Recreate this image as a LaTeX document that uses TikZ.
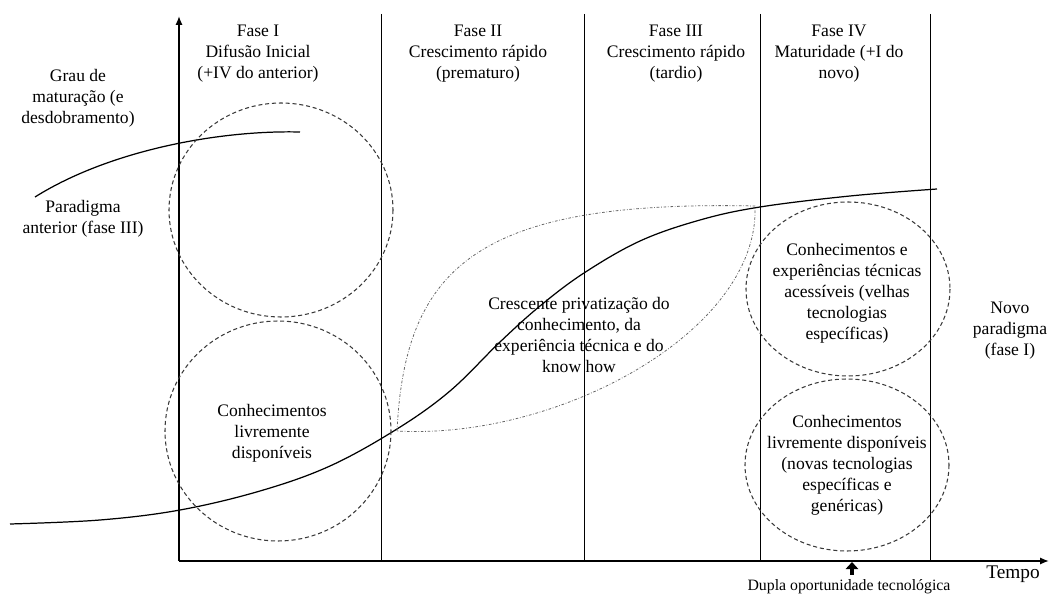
\documentclass[tikz,border=0pt]{standalone}
\usepackage{fontspec}
\setmainfont{Liberation Serif}
\usetikzlibrary{arrows.meta}

\begin{document}
\begin{tikzpicture}[
    x={(0.02cm,0)}, y={(0,-0.02cm)},
    >={Latex[length=5pt,width=4pt]},
    every node/.style = {font=\fontsize{10}{12}\selectfont, align=center, inner sep=0pt},
    axis/.style  = {line width=0.9pt},
    phase/.style = {line width=0.5pt},
    curve/.style = {line width=0.7pt},
    ring/.style  = {dashed, dash pattern=on 2.3pt off 1.6pt, gray!45!black, line width=0.6pt},
    leaf/.style  = {dash pattern=on 1.5pt off 1pt on 0.4pt off 1pt, gray!80!black, line width=0.45pt}
    ]
    \useasboundingbox (0,0) rectangle (1049,594);

    %--- axes ---
    \coordinate (O)    at (179,561);
    \coordinate (ytop) at (179,16);
    \coordinate (xend) at (1049,561);
    \draw[axis,->] (O) -- (ytop);
    \draw[axis,->] (O) -- (xend);

    %--- phase borders ---
    \foreach \px in {381,584,760,930}
        \draw[phase] (\px,14) -- (\px,560);

    %--- phase headers ---
    \node (f1) at (258,54) {Fase I\\Difusão Inicial\\(+IV do anterior)};
    \node (f2) at (478,54) {Fase II\\Crescimento rápido\\(prematuro)};
    \node (f3) at (676,54) {Fase III\\Crescimento rápido\\(tardio)};
    \node (f4) at (839,54) {Fase IV\\Maturidade (+I do\\novo)};

    %--- left labels ---
    \node (grau) at (78,98)  {Grau de\\maturação (e\\desdobramento)};
    \node (parA) at (83,219) {Paradigma\\anterior (fase III)};

    %--- curves ---
    \coordinate (oldS) at (35,197);
    \coordinate (oldE) at (300,132);
    \draw[curve] (oldS) .. controls (110,150) and (220,130) .. (oldE);
    \draw[curve] plot[smooth, tension=0.6] coordinates {
        (10,524) (100,520) (180,510) (260,491) (330,466) (397,429)
        (450,391) (500,342) (540,306) (584,273) (640,241) (700,220)
        (760,207) (850,196) (937,189)};

    %--- circles ---
    \draw[ring] (281,210) ellipse [x radius=112, y radius=107];
    \draw[ring] (278,431) ellipse [x radius=113, y radius=110];
    \draw[ring] (848,289) ellipse [x radius=102, y radius=87];
    \draw[ring] (847,465) ellipse [x radius=102, y radius=86];

    %--- privatisation leaf ---
    \coordinate (leafA) at (397,431);
    \coordinate (leafB) at (755,206);
    \draw[leaf] (leafA) .. controls (405,265) and (480,200) .. (leafB)
                        .. controls (760,330) and (560,440) .. (leafA);

    %--- texts ---
    \node (priv)  at (579,335) {Crescente privatização do\\conhecimento, da\\experiência técnica e do\\know how};
    \node (livre) at (272,433) {Conhecimentos\\livremente\\disponíveis};
    \node (acess) at (847,293) {Conhecimentos e\\experiências técnicas\\acessíveis (velhas\\tecnologias\\específicas)};
    \node (novas) at (847,465) {Conhecimentos\\livremente disponíveis\\(novas tecnologias\\específicas e\\genéricas)};
    \node (novo)  at (1010,331) {Novo\\paradigma\\(fase I)};
    \node[font=\fontsize{11}{13}\selectfont] (tempo) at (1013,574) {Tempo};
    \node[font=\fontsize{9}{11}\selectfont] (dupla) at (849,587) {Dupla oportunidade tecnológica};

    %--- double opportunity arrow ---
    \coordinate (arrTail) at (852,575);
    \coordinate (arrHead) at (852,562);
    \draw[line width=1.8pt, -{Triangle[width=7pt,length=4pt]}] (arrTail) -- (arrHead);
\end{tikzpicture}
\end{document}
